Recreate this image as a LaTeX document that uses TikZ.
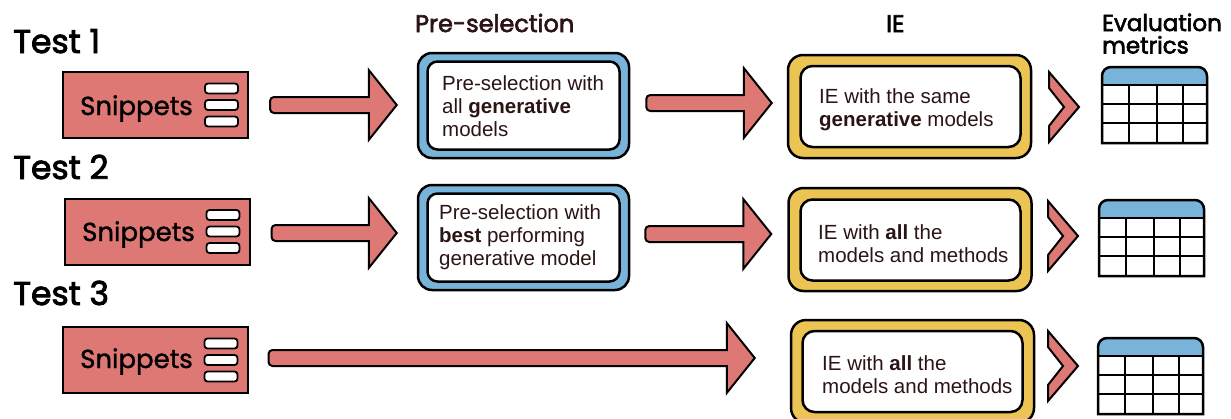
\documentclass[tikz,border=0pt]{standalone}
\usepackage{fontspec}
\setmainfont{Poppins}
\newfontfamily\headfont{Poppins}[FakeBold=2.6]
\newfontfamily\snipfont{Poppins}[FakeBold=1.4]
\newfontfamily\bodyfont{Liberation Sans}
\usetikzlibrary{calc}

\definecolor{salmon}{HTML}{DE7874}
\definecolor{skyblue}{HTML}{78B4DA}
\definecolor{mustard}{HTML}{EBC454}
\definecolor{ink}{HTML}{2B1414}

\tikzset{
  heading/.style={anchor=base west, inner sep=0pt, font=\headfont\fontsize{33}{33}\selectfont},
  colhead/.style={anchor=base west, inner sep=0pt, align=left, font=\headfont\fontsize{24}{22}\selectfont},
  evalhead/.style={anchor=base west, inner sep=0pt, align=left, font=\headfont\fontsize{23}{22.5}\selectfont},
  snipbox/.style={draw, line width=2pt, fill=salmon, minimum width=185pt, minimum height=66pt, inner sep=0pt},
  snipbar/.style={draw, line width=1.8pt, fill=white, rounded corners=3pt, minimum width=33pt, minimum height=10pt, inner sep=0pt},
  snipname/.style={anchor=base west, inner sep=0pt, font=\snipfont\fontsize{26}{26}\selectfont},
  preout/.style={draw, line width=2.5pt, fill=skyblue, rounded corners=14pt, minimum width=211pt, minimum height=105pt, inner sep=0pt},
  prein/.style={draw, line width=2.5pt, fill=white, rounded corners=10pt, minimum width=192pt, minimum height=88pt, inner sep=0pt},
  ieout/.style={draw, line width=2.5pt, fill=mustard, rounded corners=15pt, minimum width=243pt, minimum height=103pt, inner sep=0pt},
  iein/.style={draw, line width=2.5pt, fill=white, rounded corners=12pt, minimum width=220pt, minimum height=81pt, inner sep=0pt},
  boxtext/.style={anchor=west, inner sep=0pt, align=left, text=ink, font=\bodyfont\fontsize{20.5}{23}\selectfont},
  barrow/.style={draw, line width=2pt, fill=salmon, line join=miter},
  chev/.style={draw, line width=2pt, fill=salmon, line join=miter},
}

% block arrow: tail point #1, tip x taken from #2, both at the tail's height
\newcommand\blockarrow[2]{%
  \path[barrow] let \p1=(#1), \p2=(#2) in
    (\x2-28pt,\y1+8pt) -- (\x1+4pt,\y1+8pt)
    arc[start angle=90,end angle=180,radius=4pt] -- (\x1,\y1-4pt)
    arc[start angle=180,end angle=270,radius=4pt] -- (\x2-28pt,\y1-8pt)
    -- (\x2-28pt,\y1-35pt) -- (\x2,\y1) -- (\x2-28pt,\y1+35pt) -- cycle;}

% chevron pointing right: left edge x, centre y
\newcommand\chevron[2]{%
  \draw[chev] (#1,#2-35) -- (#1+30,#2) -- (#1,#2+35) -- (#1,#2+19)
    -- (#1+15,#2) -- (#1,#2-19) -- cycle;}

% results table icon: top-left corner
\newcommand\metrictable[2]{%
  \begin{scope}[shift={(#1,#2)}]
    \fill[white] (0,76) -- (0,9) arc[start angle=180,end angle=270,radius=9]
      -- (96,0) arc[start angle=270,end angle=360,radius=9] -- (105,76) -- cycle;
    \fill[skyblue] (0,18) -- (0,9) arc[start angle=180,end angle=270,radius=9]
      -- (96,0) arc[start angle=270,end angle=360,radius=9] -- (105,18) -- cycle;
    \draw[line width=2pt] (0,18) -- (105,18) (0,37) -- (105,37) (0,56) -- (105,56)
      (27,18) -- (27,76) (55,18) -- (55,76) (81,18) -- (81,76);
    \draw[line width=2.5pt] (0,76) -- (0,9) arc[start angle=180,end angle=270,radius=9]
      -- (96,0) arc[start angle=270,end angle=360,radius=9] -- (105,76) -- cycle;
  \end{scope}}

\begin{document}
\begin{tikzpicture}[x=1pt,y=-1pt]
\useasboundingbox (0,0) rectangle (1231,418);

% column headings
\node[colhead, text=ink] (hpre) at (415,32) {Pre-selection};
\node[colhead] (hie) at (886,32) {IE};
\node[evalhead] (heval) at (1102,31) {Evaluation};
\node[evalhead] (hmetrics) at (1102,53.5) {metrics};

% row headings
\node[heading] (test1) at (13,53) {Test 1};
\node[heading] (test2) at (13,179) {Test 2};
\node[heading] (test3) at (13,305) {Test 3};

% snippet inputs
\node[snipbox] (snip1) at (155.5,105) {};
\node[snipbox] (snip2) at (157,231.5) {};
\node[snipbox] (snip3) at (155,360) {};
\node[snipname] (sn1) at (80,115) {Snippets};
\node[snipname] (sn2) at (82,241) {Snippets};
\node[snipname] (sn3) at (80,368) {Snippets};
\foreach \s in {1,2,3}{
  \node[snipbar] (bar\s a) at ($(snip\s.east)+(-27.5,-16.5)$) {};
  \node[snipbar] (bar\s b) at ($(snip\s.east)+(-27.5,0)$) {};
  \node[snipbar] (bar\s c) at ($(snip\s.east)+(-27.5,16.5)$) {};
}

% pre-selection stage
\node[preout] (pre1) at (523.5,105.5) {};
\node[prein] (pre1in) at (pre1) {};
\node[boxtext] (pre1txt) at (442,106) {Pre-selection with\\all \textbf{generative}\\models};
\node[preout] (pre2) at (523.5,237.5) {};
\node[prein] (pre2in) at (pre2) {};
\node[boxtext] (pre2txt) at (439,237) {Pre-selection with\\\textbf{best} performing\\generative model};

% information extraction stage
\node[ieout] (ie1) at (909.5,106.5) {};
\node[iein] (ie1in) at (910.5,106.5) {};
\node[boxtext] (ie1txt) at (819,110) {IE with the same\\\textbf{generative} models};
\node[ieout] (ie2) at (910,239.5) {};
\node[iein] (ie2in) at (910.5,240) {};
\node[boxtext] (ie2txt) at (818,244) {IE with \textbf{all} the\\models and methods};
\node[ieout] (ie3) at (912.5,371.5) {};
\node[iein] (ie3in) at (912.5,371.5) {};
\node[boxtext] (ie3txt) at (822,375) {IE with \textbf{all} the\\models and methods};

% flow arrows
\blockarrow{$(snip1.east)+(21,0)$}{$(pre1.west)+(-20,0)$}
\blockarrow{$(snip2.east)+(21,1.5)$}{$(pre2.west)+(-20,0)$}
\blockarrow{$(pre1.east)+(16,-2.5)$}{$(ie1.west)+(-15,0)$}
\blockarrow{$(pre2.east)+(15,-3.5)$}{$(ie2.west)+(-16,0)$}
\blockarrow{$(snip3.east)+(20,-2)$}{$(ie3.west)+(-35,0)$}

% to the metrics
\chevron{1049}{107}
\chevron{1048}{236}
\chevron{1048}{366}
\metrictable{1102}{67}
\metrictable{1099}{200}
\metrictable{1098}{338}
\end{tikzpicture}
\end{document}
